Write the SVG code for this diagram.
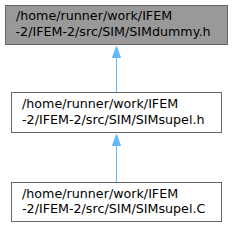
<svg xmlns="http://www.w3.org/2000/svg" width="233" height="227" viewBox="0 0 233 227">
<style>
.node rect{stroke:#666666;stroke-width:1}
.node text{font-family:"DejaVu Sans",sans-serif;font-size:12.7px;fill:#000000}
.edge{stroke:#63b8ff;stroke-width:1;fill:none}
.head{fill:#63b8ff;stroke:#63b8ff;stroke-width:1}
</style>
<g id="node1" class="node">
<rect x="5.5" y="5.5" width="222" height="39" fill="#999999"/>
<text x="16" y="20">/home/runner/work/IFEM</text>
<text x="15.5" y="36">-2/IFEM-2/src/SIM/SIMdummy.h</text>
</g>
<g id="node2" class="node">
<rect x="11.5" y="92.5" width="210" height="40" fill="#ffffff"/>
<text x="22" y="108">/home/runner/work/IFEM</text>
<text x="22" y="124">-2/IFEM-2/src/SIM/SIMsupel.h</text>
</g>
<g id="node3" class="node">
<rect x="11.5" y="182.5" width="210" height="39" fill="#ffffff"/>
<text x="22" y="198">/home/runner/work/IFEM</text>
<text x="22" y="213">-2/IFEM-2/src/SIM/SIMsupel.C</text>
</g>
<g id="connectors">
<path class="edge" d="M116.5,92 L116.5,57"/>
<polygon class="head" points="116.5,46.5 120.5,57.5 112.5,57.5"/>
<path class="edge" d="M116.5,182 L116.5,145"/>
<polygon class="head" points="116.5,134.5 120.5,145.5 112.5,145.5"/>
</g>
</svg>
